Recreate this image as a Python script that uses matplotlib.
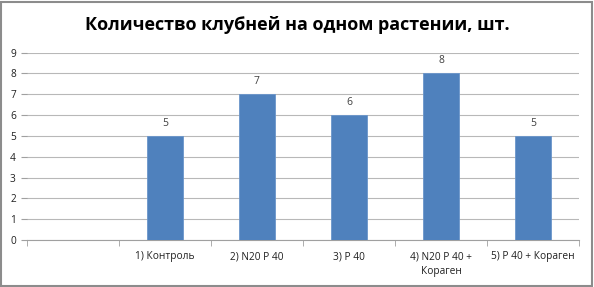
import matplotlib.pyplot as plt
from matplotlib.patches import Rectangle

# Data (first category slot is empty)
categories = ['', '1) Контроль', '2) N20 P 40', '3) P 40', '4) N20 P 40 +\nКораген', '5) P 40 + Кораген']
values = [None, 5, 7, 6, 8, 5]
title = 'Количество клубней на одном растении, шт.'

plt.rcParams['font.family'] = ['Open Sans', 'DejaVu Sans']

fig = plt.figure(figsize=(5.94, 2.87), dpi=100)
ax = fig.add_axes([27 / 594, 1 - 240 / 287, (579 - 27) / 594, (240 - 52.5) / 287])

x = list(range(len(categories)))
xs = [i for i, v in zip(x, values) if v is not None]
vs = [v for v in values if v is not None]
bars = ax.bar(xs, vs, width=0.4, color='#4F81BD', edgecolor='#6B96CB', linewidth=0.6, zorder=3)
for b, v in zip(bars, vs):
    ax.annotate(str(v), (b.get_x() + b.get_width() / 2, v), xytext=(0, 5), textcoords='offset points',
                ha='center', va='bottom', fontsize=7.5, color='#404040')

ax.set_xlim(-0.5, len(categories) - 0.5)
ax.set_ylim(0, 9)
ax.set_yticks(range(10))
ax.yaxis.grid(True, color='#B8B8B8', linewidth=0.8, zorder=0)
ax.set_axisbelow(True)

ax.set_xticks(x)
ax.set_xticklabels(categories, fontsize=7.3, color='#202020', linespacing=1.45)
ax.set_xticks([i + 0.5 for i in x[:-1]] + [-0.5, len(categories) - 0.5], minor=True)
ax.tick_params(axis='x', which='major', length=0, pad=8)
ax.tick_params(axis='x', which='minor', length=4, color='#A0A0A0', direction='out')
ax.tick_params(axis='y', length=4, color='#A0A0A0', labelsize=7.3, labelcolor='#202020', pad=4)

for s in ['top', 'right', 'left']:
    ax.spines[s].set_visible(False)
ax.spines['bottom'].set_color('#A0A0A0')

fig.text(0.5, 1 - 25 / 287, title, ha='center', va='center', fontsize=13, fontweight='bold', color='#000000')

fig.patches.append(Rectangle((0.002, 0.004), 0.994, 0.99, transform=fig.transFigure, fill=False,
                             edgecolor='#8C8C8C', linewidth=1.5))

fig.savefig('out.png', dpi=100)
